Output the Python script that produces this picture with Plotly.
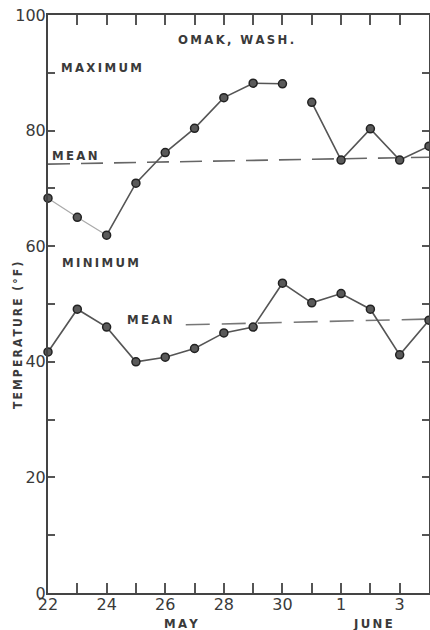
import plotly.graph_objects as go

# ---- data ----
days = [22, 23, 24, 25, 26, 27, 28, 29, 30, 31, 32, 33, 34, 35]   # 32 = June 1
day_tick_labels = ["22", "", "24", "", "26", "", "28", "", "30", "", "1", "", "3", ""]
max_temp = [68.3, 65.0, 61.9, 70.9, 76.2, 80.4, 85.7, 88.2, 88.1, 84.9, 74.9, 80.3, 74.9, 77.3]
min_temp = [41.7, 49.1, 46.0, 40.0, 40.8, 42.3, 45.0, 46.0, 53.6, 50.2, 51.8, 49.1, 41.2, 47.2]
max_break_after = [8]          # no line drawn between May 30 and May 31
max_faint_upto = 2             # first segments printed faint
mean_max_days = [22, 35]
mean_max_vals = [74.2, 75.4]
mean_min_days = [26.7, 35]
mean_min_vals = [46.4, 47.4]
y_tick_vals = [0, 10, 20, 30, 40, 50, 60, 70, 80, 90, 100]
y_tick_labels = ["0", "", "20", "", "40", "", "60", "", "80", "", "100"]

INK = "#3a3a3a"
LINE = "#555555"
FONT = "DejaVu Sans"
LFONT = "DejaVu Sans Condensed, Liberation Sans Narrow, DejaVu Sans"
TS = "\u2009"

def spaced(s):
    return TS.join(list(s))

fig = go.Figure()

# mean lines
fig.add_trace(go.Scatter(x=mean_max_days, y=mean_max_vals, mode="lines",
                         line=dict(color="#666666", width=1.6, dash="22px,11px"),
                         hoverinfo="skip", showlegend=False))
fig.add_trace(go.Scatter(x=mean_min_days, y=mean_min_vals, mode="lines",
                         line=dict(color="#777777", width=1.6, dash="24px,12px"),
                         hoverinfo="skip", showlegend=False))

# maximum line: faint start, break between 30 and 31
fig.add_trace(go.Scatter(x=days[:max_faint_upto + 1], y=max_temp[:max_faint_upto + 1],
                         mode="lines", line=dict(color="#aaaaaa", width=1.2),
                         hoverinfo="skip", showlegend=False))
lx, ly = [], []
for i in range(max_faint_upto, len(days)):
    lx.append(days[i]); ly.append(max_temp[i])
    if i in max_break_after:
        lx.append(None); ly.append(None)
fig.add_trace(go.Scatter(x=lx, y=ly, mode="lines", connectgaps=False,
                         line=dict(color=LINE, width=1.6),
                         hoverinfo="skip", showlegend=False))
fig.add_trace(go.Scatter(x=days, y=min_temp, mode="lines",
                         line=dict(color=LINE, width=1.6),
                         hoverinfo="skip", showlegend=False))

# markers
for series in (max_temp, min_temp):
    fig.add_trace(go.Scatter(x=days, y=series, mode="markers", cliponaxis=False,
                             marker=dict(size=8, color="#5a5a5a",
                                         line=dict(color="#222222", width=1.5)),
                             showlegend=False))

ann_font = dict(family=LFONT, size=13, color=INK)
labels = [
    ("OMAK, WASH.", 28.42, 95.7),
    ("MAXIMUM", 23.81, 91.0),
    ("MINIMUM", 23.78, 57.1),
    ("MEAN", 22.92, 75.7),
    ("MEAN", 25.48, 47.4),
]
for text, x, y in labels:
    fig.add_annotation(x=x, y=y, xref="x", yref="y", text="<b>" + spaced(text) + "</b>",
                       showarrow=False, font=ann_font)

fig.add_annotation(x=26.55, y=-0.052, xref="x", yref="paper", yanchor="middle",
                   text="<b>" + spaced("MAY") + "</b>", showarrow=False, font=ann_font)
fig.add_annotation(x=33.1, y=-0.052, xref="x", yref="paper", yanchor="middle",
                   text="<b>" + spaced("JUNE") + "</b>", showarrow=False, font=ann_font)
fig.add_annotation(x=-0.079, y=44.6, xref="paper", yref="y", textangle=-90,
                   xanchor="center", yanchor="middle",
                   text="<b>" + spaced("TEMPERATURE") + "  " + spaced("(°F)") + "</b>",
                   showarrow=False, font=dict(family=LFONT, size=12, color=INK))

fig.update_xaxes(range=[22, 35], tickvals=days, ticktext=day_tick_labels,
                 ticks="inside", ticklen=10, tickwidth=1.5, tickcolor="#555",
                 showline=True, linecolor="#444", linewidth=2, mirror="ticks",
                 showgrid=False, zeroline=False, automargin=False,
                 ticklabelstandoff=-4,
                 tickfont=dict(family=FONT, size=16, color=INK))
fig.update_yaxes(range=[0, 100], tickvals=y_tick_vals, ticktext=y_tick_labels,
                 ticks="inside", ticklen=7, tickwidth=1.5, tickcolor="#555",
                 showline=True, linecolor="#444", linewidth=2, mirror="ticks",
                 showgrid=False, zeroline=False, automargin=False,
                 ticklabelstandoff=-3,
                 tickfont=dict(family=FONT, size=16, color=INK))

fig.update_layout(width=430, height=630,
                  margin=dict(l=48, r=1, t=15, b=37),
                  paper_bgcolor="white", plot_bgcolor="white",
                  showlegend=False)

post = ("document.body.style.margin='0';document.body.style.padding='0';"
        "document.documentElement.style.overflow='hidden';"
        "var gd=document.getElementById('{plot_id}');"
        "Plotly.relayout(gd,{width:430,height:630});")

fig.write_html("out.html", post_script=post, config={"displayModeBar": False})
